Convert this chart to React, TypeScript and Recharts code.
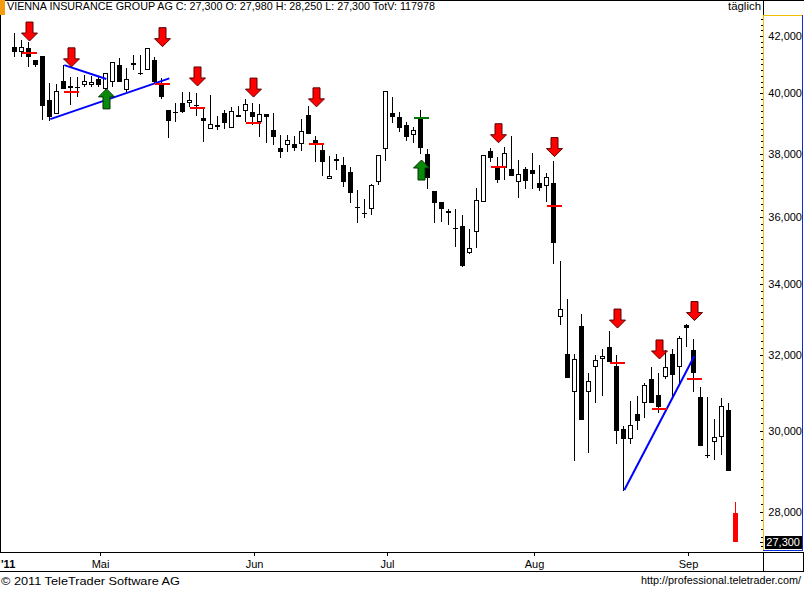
import {
  Bar,
  ComposedChart,
  ReferenceDot,
  ReferenceLine,
  XAxis,
  YAxis,
} from "recharts";

// Tageskerzen, Index 0 = 12.04.2011 ... Index 103 = 12.09.2011
const OPEN = [
  41610, 41430, 41570, 41150, 41290, 39770, 39300, 40420, 40250, 40230,
  40280, 40280, 40490, 40150, 40390, 40980, 40110, 40980, 40700, 40800,
  41150, 40350, 39440, 39370, 39670, 39670, 39600, 39170, 38800, 38930,
  39330, 38830, 39200, 39400, 39370, 39030, 39300, 38770, 38180, 38280,
  38310, 38310, 39270, 38440, 38110, 37180, 37820, 37630, 37410, 36310,
  36120, 36250, 37090, 38150, 39330, 39200, 38930, 38600, 39170, 37980,
  36800, 36460, 36180, 35660, 35730, 34910, 35540, 36460, 38080, 37570,
  37530, 37500, 37090, 37500, 37470, 37060, 36960, 37060, 33060, 32030,
  31010, 32810, 31010, 31680, 31900, 32230, 31710, 30050, 29800, 30440,
  30720, 31360, 30930, 31410, 32030, 31680, 32840, 32140, 30880, 29390,
  29720, 29850, 30540, 27980,
];
const HIGH = [
  42110, 41860, 41790, 41150, 41290, 40350, 40320, 40980, 40560, 40560,
  40630, 40590, 40560, 40700, 41080, 41220, 40870, 41330, 41330, 41570,
  41260, 40520, 39440, 39670, 40040, 40040, 40010, 39500, 39940, 39230,
  39440, 39540, 39570, 39810, 39670, 39640, 39300, 39330, 38600, 38600,
  38570, 39130, 39570, 38570, 38280, 37920, 37980, 37890, 37570, 36840,
  36560, 37030, 37950, 40080, 39870, 39370, 39030, 38870, 39440, 38150,
  36800, 36460, 36250, 36250, 36060, 35630, 36900, 37950, 38180, 37890,
  38210, 38570, 37790, 37570, 38020, 37630, 37370, 37760, 34680, 33570,
  32030, 33140, 31520, 32010, 32170, 32670, 32010, 30130, 30780, 30910,
  31250, 31680, 31520, 32140, 32170, 32530, 32860, 32450, 31150, 30880,
  30310, 30860, 30720, 28250,
];
const LOW = [
  41260, 41260, 40910, 40910, 39100, 39070, 39300, 40150, 39600, 39870,
  40210, 40210, 40210, 40110, 40210, 40390, 40040, 40800, 40630, 40800,
  40350, 39810, 38500, 39030, 39330, 39540, 39230, 38370, 38800, 38770,
  38800, 38830, 39200, 39030, 38930, 38540, 38340, 38280, 37850, 38050,
  38080, 38080, 38640, 37730, 37280, 37180, 37470, 36930, 36430, 35820,
  35970, 36060, 36990, 37760, 39000, 38700, 38410, 38340, 37980, 36870,
  35820, 35850, 35760, 35090, 34500, 34880, 35060, 36460, 37730, 37060,
  37150, 37280, 36590, 36870, 36870, 36800, 36460, 34590, 32840, 31390,
  29240, 30280, 29440, 30720, 30910, 31820, 29670, 28500, 29670, 30030,
  30330, 30720, 30460, 31360, 30880, 31230, 32230, 31010, 29620, 29320,
  29270, 29390, 28990, 27300,
];
const CLOSE = [
  41430, 41610, 41260, 40980, 39570, 39200, 40080, 40150, 40180, 40210,
  40420, 40390, 40280, 40700, 41080, 40390, 40490, 41050, 40680, 41570,
  40390, 39870, 39070, 39350, 39370, 39770, 39590, 39070, 38970, 38870,
  39000, 39400, 39270, 39640, 39200, 39300, 39200, 38540, 38050, 38440,
  38180, 38740, 38640, 38280, 37730, 37280, 37760, 37090, 36740, 36290,
  36110, 36990, 37950, 40080, 39200, 38830, 38540, 38770, 38180, 37220,
  36430, 36250, 36120, 35630, 34530, 35060, 36520, 37950, 37850, 37150,
  38020, 37280, 37340, 37120, 37340, 36900, 37250, 35210, 33290, 31390,
  31900, 30280, 31310, 31870, 31980, 31820, 30000, 29800, 30150, 30260,
  31200, 30720, 30620, 31680, 31470, 32470, 32750, 31520, 29620, 29380,
  29850, 30650, 28990, 27300,
];
const TOT_VOLUME = 117978;

const MONTH_IDX = [12, 34, 53, 74, 96];
const MONTH_LABELS = ["Mai", "Jun", "Jul", "Aug", "Sep"];

// Verkaufssignale (rote Pfeile + Marke), Kaufsignale (grüne Pfeile)
const SELL_IDX = [2, 8, 21, 26, 34, 43, 69, 77, 86, 92, 97];
const SELL_ARROW = [41820, 40910, 41620, 40250, 39870, 39540, 38350, 37900, 32750, 31900, 32960];
const SELL_MARK = [41400, 40040, 40320, 39500, 39000, 38310, 37570, 36340, 31790, 30570, 31360];
const BUY_IDX = [13, 58];
const BUY_ARROW = [40150, 37790];
const BUY_MARK_IDX = [58];
const BUY_MARK = [39170];

const TRENDS = [
  [{ x: 7, y: 40970 }, { x: 13, y: 40490 }],
  [{ x: 5, y: 39130 }, { x: 22, y: 40510 }],
  [{ x: 87, y: 28530 }, { x: 97, y: 31980 }],
];

const FONT = "'Liberation Sans', Arial, sans-serif";
const YELLOW = "#f2c200";
const BLUE = "#0a2ed6";

const rows = OPEN.map((o, i) => ({
  i,
  open: o,
  high: HIGH[i],
  low: LOW[i],
  close: CLOSE[i],
  range: [LOW[i], HIGH[i]],
}));

const last = rows.length - 1;
const fmt = (v: number) => v.toLocaleString("en-US");

// minor ticks every 200, plus last close
const yTicks: number[] = [];
for (let v = 27200; v <= 42600; v += 200) yTicks.push(v);
yTicks.push(CLOSE[last]);
yTicks.sort((a, b) => a - b);
const leftTicks: number[] = [];
for (let v = 27500; v <= 42500; v += 500) leftTicks.push(v);

function Candle(props: any) {
  const { x, y, width, height, payload } = props;
  if (x == null || !payload) return null;
  const top = Math.min(y, y + height);
  const bot = Math.max(y, y + height);
  const lh = Math.log(payload.high);
  const ll = Math.log(payload.low);
  const py = (v: number) => top + ((lh - Math.log(v)) / (lh - ll || 1)) * (bot - top);
  const cx = Math.floor(x + width / 2) + 0.5;
  const isLast = payload.i === last;
  const up = payload.close > payload.open && !isLast;
  const color = isLast ? "#ff0000" : "#000";
  const bTop = Math.round(py(Math.max(payload.open, payload.close)));
  const bBot = Math.round(py(Math.min(payload.open, payload.close)));
  const bh = Math.max(1, bBot - bTop);
  return (
    <g shapeRendering="crispEdges">
      <line x1={cx} x2={cx} y1={Math.round(top)} y2={Math.round(bot)} stroke={color} />
      {up ? (
        <rect x={cx - 2} y={bTop + 0.5} width={4} height={Math.max(1, bh - 1)} fill="#fff" stroke="#000" />
      ) : (
        <rect x={cx - 2.5} y={bTop} width={5} height={bh} fill={color} />
      )}
    </g>
  );
}

function DownArrow({ cx, cy }: any) {
  if (cx == null) return null;
  const c = Math.floor(cx) + 0.5;
  const pts = [
    [c, cy], [c - 8, cy - 8], [c - 3.5, cy - 8], [c - 3.5, cy - 19],
    [c + 3.5, cy - 19], [c + 3.5, cy - 8], [c + 8, cy - 8],
  ];
  return <polygon points={pts.map((p) => p.join(",")).join(" ")} fill="#ff0000" stroke="#5a0000" strokeWidth={1} />;
}

function UpArrow({ cx, cy }: any) {
  if (cx == null) return null;
  const c = Math.floor(cx) + 0.5;
  const pts = [
    [c, cy], [c - 8, cy + 8], [c - 3.5, cy + 8], [c - 3.5, cy + 20],
    [c + 3.5, cy + 20], [c + 3.5, cy + 8], [c + 8, cy + 8],
  ];
  return <polygon points={pts.map((p) => p.join(",")).join(" ")} fill="#0a8a0a" stroke="#003300" strokeWidth={1} />;
}

const markShape = (fill: string) => (p: any) =>
  p.cx == null ? null : (
    <rect x={Math.floor(p.cx) - 7} y={Math.round(p.cy) - 1} width={15} height={2} fill={fill} />
  );

function YTick(props: any) {
  const { y, payload } = props;
  const v = payload.value;
  const yy = Math.round(y) + 0.5;
  if (v === CLOSE[last]) {
    return (
      <g>
        <line x1={760} x2={763} y1={yy} y2={yy} stroke="#000" />
        <rect x={765} y={Math.round(y) - 6} width={37} height={13} fill="#000" />
        <text x={800} y={y + 4} textAnchor="end" fill="#fff" fontSize={11} fontFamily={FONT}>
          {fmt(v)}
        </text>
      </g>
    );
  }
  const major = v % 2000 === 0;
  return (
    <g>
      <line x1={major ? 760 : 761} x2={763} y1={yy} y2={yy} stroke="#000" />
      {major && (
        <text x={802} y={y + 4} textAnchor="end" fill="#000" fontSize={11} fontFamily={FONT}>
          {fmt(v)}
        </text>
      )}
    </g>
  );
}

function LeftTick(props: any) {
  const yy = Math.round(props.y) + 0.5;
  return <line x1={0} x2={3} y1={yy} y2={yy} stroke="#000" />;
}

function XTick(props: any) {
  const { x, payload } = props;
  const label = MONTH_LABELS[MONTH_IDX.indexOf(payload.value)];
  const xx = Math.floor(x) + 1.5;
  return (
    <g>
      <line x1={xx} x2={xx} y1={553} y2={556} stroke="#000" />
      <text x={xx} y={567.5} textAnchor="middle" fill="#000" fontSize={11} fontFamily={FONT}>
        {label}
      </text>
    </g>
  );
}

function Frame() {
  const title = `VIENNA INSURANCE GROUP AG C: ${fmt(CLOSE[last])} O: ${fmt(OPEN[last])} H: ${fmt(
    HIGH[last]
  )} L: ${fmt(LOW[last])} TotV: ${TOT_VOLUME}`;
  return (
    <svg
      width={804}
      height={590}
      style={{ position: "absolute", left: 0, top: 0, pointerEvents: "none" }}
      fontFamily={FONT}
    >
      <g shapeRendering="crispEdges">
        <line x1={0} x2={804} y1={0.5} y2={0.5} stroke="#000" />
        <rect x={0} y={0} width={5} height={15} fill="#f39c12" />
        <line x1={763.5} x2={763.5} y1={0} y2={15} stroke="#000" />
        <line x1={763} x2={803} y1={15.5} y2={15.5} stroke={YELLOW} />
        <line x1={763.5} x2={763.5} y1={15} y2={551} stroke={YELLOW} />
        <line x1={802.5} x2={802.5} y1={15} y2={551} stroke={BLUE} />
        <line x1={763} x2={803} y1={550.5} y2={550.5} stroke={BLUE} />
        <line x1={0.5} x2={0.5} y1={15} y2={553} stroke="#000" />
        <line x1={0} x2={804} y1={552.5} y2={552.5} stroke="#000" />
        <line x1={0} x2={804} y1={571.5} y2={571.5} stroke="#000" />
        <line x1={763.5} x2={763.5} y1={553} y2={572} stroke="#000" />
        <line x1={803.5} x2={803.5} y1={553} y2={572} stroke="#000" />
      </g>
      <text x={7} y={10} fontSize={10.5} textLength={428} lengthAdjust="spacingAndGlyphs">
        {title}
      </text>
      <text x={728} y={10} fontSize={10.5} textLength={33} lengthAdjust="spacingAndGlyphs">
        täglich
      </text>
      <text x={1} y={567.5} fontSize={11} fontWeight="bold">
        '11
      </text>
      <text x={1} y={585} fontSize={11.5} textLength={179} lengthAdjust="spacingAndGlyphs">
        © 2011 TeleTrader Software AG
      </text>
      <text x={641} y={584} fontSize={10.7} textLength={160} lengthAdjust="spacingAndGlyphs">
        http://professional.teletrader.com/
      </text>
    </svg>
  );
}

export default function App() {
  return (
    <div style={{ position: "absolute", left: 0, top: 0, width: 804, height: 590, background: "#fff" }}>
      <ComposedChart
        width={804}
        height={572}
        data={rows}
        margin={{ top: 15, right: 1, bottom: 0, left: 0 }}
      >
        <XAxis
          type="number"
          dataKey="i"
          domain={[-2.19, 106.81]}
          allowDataOverflow
          ticks={MONTH_IDX}
          interval={0}
          tick={XTick}
          axisLine={false}
          tickLine={false}
          height={19}
        />
        <YAxis
          orientation="right"
          scale="log"
          domain={[27040, 42758]}
          allowDataOverflow
          ticks={yTicks}
          interval={0}
          tick={YTick}
          axisLine={false}
          tickLine={false}
          width={40}
        />
        <YAxis
          yAxisId="l"
          orientation="left"
          scale="log"
          domain={[27040, 42758]}
          allowDataOverflow
          ticks={leftTicks}
          interval={0}
          tick={LeftTick}
          axisLine={false}
          tickLine={false}
          width={0}
        />
        <Bar dataKey="range" barSize={7} shape={Candle} isAnimationActive={false} />
        {TRENDS.map((seg, k) => (
          <ReferenceLine key={`t${k}`} segment={seg} stroke="#0000ff" strokeWidth={2} />
        ))}
        {SELL_IDX.map((ix, k) => (
          <ReferenceDot key={`sm${k}`} x={ix} y={SELL_MARK[k]} r={0} shape={markShape("#ff0000")} />
        ))}
        {BUY_MARK_IDX.map((ix, k) => (
          <ReferenceDot key={`bm${k}`} x={ix} y={BUY_MARK[k]} r={0} shape={markShape("#007a00")} />
        ))}
        {SELL_IDX.map((ix, k) => (
          <ReferenceDot key={`sa${k}`} x={ix} y={SELL_ARROW[k]} r={0} shape={DownArrow} />
        ))}
        {BUY_IDX.map((ix, k) => (
          <ReferenceDot key={`ba${k}`} x={ix} y={BUY_ARROW[k]} r={0} shape={UpArrow} />
        ))}
      </ComposedChart>
      <Frame />
    </div>
  );
}
